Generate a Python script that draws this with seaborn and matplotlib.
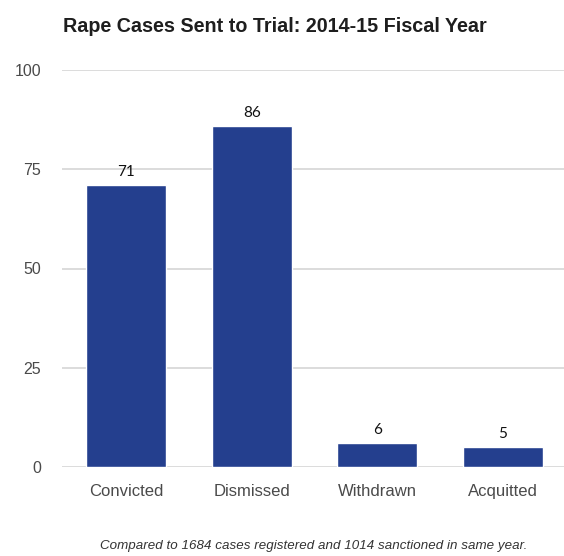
import matplotlib
matplotlib.use("Agg")
import matplotlib.pyplot as plt
import seaborn as sns
import pandas as pd

categories = ["Convicted", "Dismissed", "Withdrawn", "Acquitted"]
values = [71, 86, 6, 5]
yticks = [0, 25, 50, 75, 100]

title = "Rape Cases Sent to Trial: 2014-15 Fiscal Year"
caption = "Compared to 1684 cases registered and 1014 sanctioned in same year."

sns.set_style("white")
plt.rcParams['font.family'] = ['Liberation Sans', 'DejaVu Sans']

df = pd.DataFrame({"cat": categories, "val": values})

fig = plt.figure(figsize=(5.64, 5.56), dpi=100)
ax = fig.add_axes([62/564, 1-467/556, 1-62/564, (467-70)/556])

sns.barplot(data=df, x="cat", y="val", ax=ax, color="#243f8e", saturation=1,
            width=0.636, zorder=3)

ax.set_ylim(0, 100)
ax.set_xlim(-0.509, 3.485)
ax.set_yticks(yticks)
ax.yaxis.grid(True, color="#d6d6d6", linewidth=1.2, zorder=0)
ax.set_axisbelow(True)
for s in ax.spines.values():
    s.set_visible(False)
ax.set_xlabel("")
ax.set_ylabel("")
ax.tick_params(axis="both", length=0, colors="#4a4a4a")
ax.tick_params(axis="y", pad=15, labelsize=11.5)
ax.tick_params(axis="x", pad=12, labelsize=12)

for i, v in enumerate(values):
    ax.text(i, v + 3.2, str(v), ha="center", va="center", fontsize=11,
            color="#111111", family=["Lato", "DejaVu Sans"])

fig.text(63/564, 1-27/556, title, ha="left", va="center", fontsize=14.2,
         fontweight="bold", color="#1e1e1e")
fig.text(314/564, 1-546/556, caption, ha="center", va="center", fontsize=9.6,
         style="italic", color="#333333")

fig.savefig("out.png", dpi=100)
